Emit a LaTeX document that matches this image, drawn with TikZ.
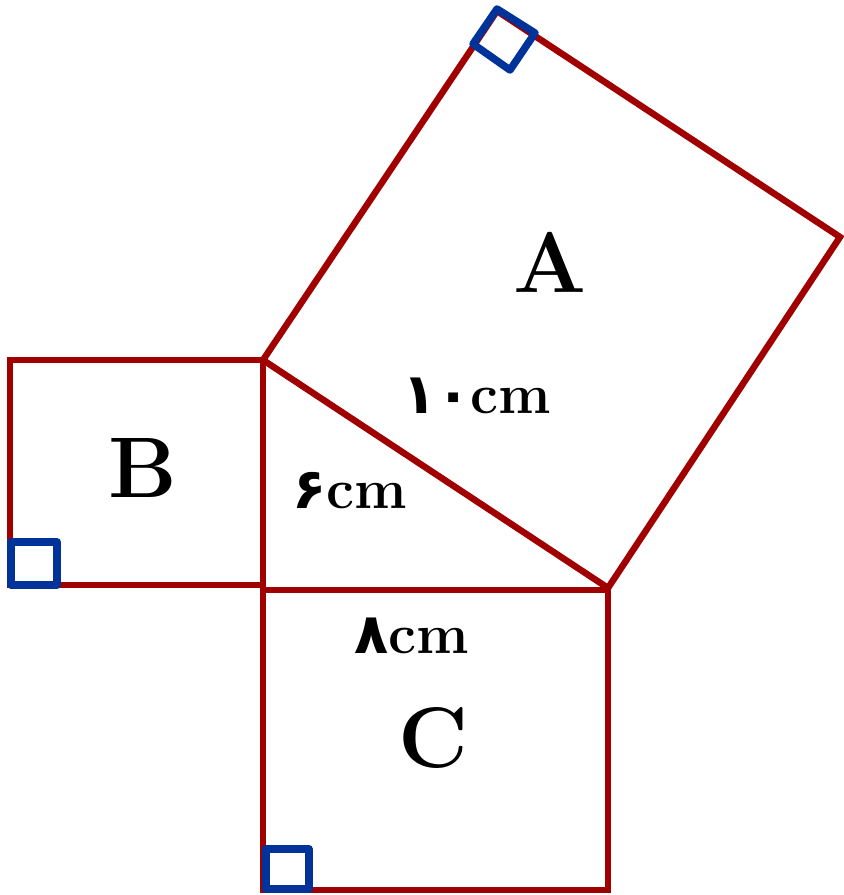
\documentclass[tikz,border=0pt]{standalone}
\usepackage{fontspec}
\newfontfamily\fa[Script=Arabic]{DejaVu Sans}
\definecolor{sqred}{RGB}{160,0,0}
\definecolor{sqblue}{RGB}{0,51,153}
\begin{document}
\begin{tikzpicture}[x=1pt,y=-1pt,
  redline/.style={draw=sqred,line width=6.5pt,line join=miter},
  blueline/.style={draw=sqblue,line width=7.5pt,line join=round},
  biglabel/.style={font=\fontsize{86}{86}\selectfont\bfseries\addfontfeatures{FakeBold=1.6},inner sep=0pt},
  cmlabel/.style={font=\fontsize{56}{56}\selectfont\bfseries,inner sep=0pt,anchor=base}]
\useasboundingbox (0,0) rectangle (844,895);
% triangle vertices
\coordinate (T) at (263,360);
\coordinate (L) at (263,588);
\coordinate (R) at (608,588);
% square A corners
\coordinate (A1) at (497,11);
\coordinate (A2) at (840,237);
% square B
\draw[redline] (263,360) -- (10,360) -- (10,585) -- (263,585);
% square C
\draw[redline] (263,590) -- (263,890) -- (608,890) -- (608,590);
% triangle sides
\draw[redline] (T) -- (263,590);
\draw[redline] (263,590) -- (611,590);
\draw[redline] (T) -- (R);
% square A
\draw[redline] (T) -- (A1) -- (A2) -- (R);
% right-angle marks
\draw[blueline] (497,9) -- (535,33) -- (510,70) -- (473,44) -- cycle;
\draw[blueline] (11,542) rectangle (57,585);
\draw[blueline] (266,849) rectangle (309,889);
% labels
\node[biglabel] (la) at (550,262) {A};
\node[biglabel] (lb) at (143,468) {B};
\node[biglabel] (lc) at (433,738) {C};
\node[cmlabel] (l10) at (477,413) {{\fa ۱۰}\addfontfeatures{FakeBold=1}cm};
\node[cmlabel] (l6) at (350,508) {{\fa ۶}\addfontfeatures{FakeBold=1}cm};
\node[cmlabel] (l8) at (412,653) {{\fa ۸}\addfontfeatures{FakeBold=1}cm};
\end{tikzpicture}
\end{document}
